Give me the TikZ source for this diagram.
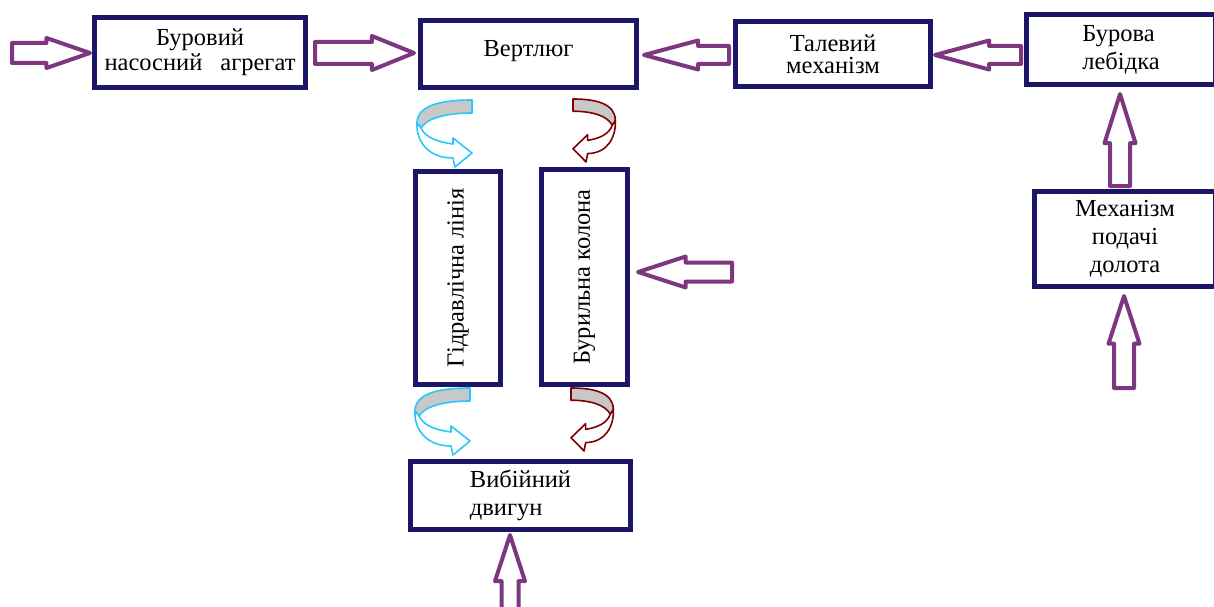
\documentclass[tikz,border=0pt]{standalone}
\usepackage{fontspec}
\setmainfont{Liberation Serif}
\usetikzlibrary{shapes.arrows}
\definecolor{navy}{RGB}{28,22,104}
\definecolor{purp}{RGB}{125,55,128}
\definecolor{cyanA}{RGB}{40,200,250}
\definecolor{dred}{RGB}{128,0,0}
\definecolor{bandgray}{RGB}{200,200,200}
\tikzset{
  box/.style={draw=navy, line width=5pt, fill=white, rectangle, inner sep=2pt,
    align=center, font=\fontsize{24.5}{27}\selectfont},
  barrow/.style={single arrow, draw=purp, fill=white, line width=4pt, line join=round,
    inner xsep=0pt, inner ysep=#1, outer sep=0pt, anchor=tip},
  pics/turn/.style={code={
    \filldraw[fill=bandgray, draw=#1, line width=1.6pt, line join=round]
      (0,0) .. controls (-30,0) and (-55,5) .. (-55,23)
      -- (-51,28)
      .. controls (-45,18) and (-25,13) .. (0,13) -- cycle;
    \filldraw[fill=white, draw=#1, line width=1.6pt, line join=round]
      (-55,23) .. controls (-56,40) and (-45,58) .. (-19,58)
      -- (-17,67) -- (0,53) -- (-19,38) -- (-19,44)
      .. controls (-35,42) and (-47,37) .. (-51,28) -- cycle;
  }}
}
\begin{document}
\begin{tikzpicture}[x=1pt, y=-1pt]
\useasboundingbox (0,0) rectangle (1214,607);
\clip (0,0) rectangle (1214,607);

% boxes
\node[box, minimum width=211pt, minimum height=70pt, font=\fontsize{24.5}{25}\selectfont] (bna) at (200,52.5)
  {Буровий\\насосний\hspace*{18pt}агрегат};
\node[box, minimum width=216pt, minimum height=67pt, text depth=12pt] (vert) at (528.5,54) {Вертлюг};
\node[box, minimum width=195pt, minimum height=65pt, font=\fontsize{24.5}{22}\selectfont] (tal) at (833,54) {Талевий\\механізм};
\node[box, minimum width=189pt, minimum height=70pt, align=left, font=\fontsize{24.5}{28}\selectfont] (leb) at (1121,49.5) {Бурова\\лебідка};
\node[box, minimum width=181pt, minimum height=95pt, font=\fontsize{24.5}{28}\selectfont] (mpd) at (1125,239) {Механізм\\подачі\\долота};
\node[box, rotate=90, minimum width=213pt, minimum height=85pt] (hl) at (458,278) {Гідравлічна лінія};
\node[box, rotate=90, minimum width=215pt, minimum height=86pt] (bk) at (584.5,277) {Бурильна колона};
\node[box, minimum width=220pt, minimum height=68pt, align=left, font=\fontsize{24.5}{28}\selectfont] (vd) at (520.5,495.5) {Вибійний\\двигун};

% block arrows
\node[barrow=8pt, single arrow head extend=5pt, single arrow tip angle=38, minimum height=78pt] (a1) at (90,53) {};
\node[barrow=9pt, single arrow head extend=6pt, single arrow tip angle=44, minimum height=99pt] (a2) at (414,53) {};
\node[barrow=7pt, single arrow head extend=5.5pt, single arrow tip angle=30, minimum height=85pt, shape border rotate=180] (a3) at (644,55) {};
\node[barrow=7pt, single arrow head extend=5.5pt, single arrow tip angle=30, minimum height=86pt, shape border rotate=180] (a4) at (935,55) {};
\node[barrow=8pt, single arrow head extend=5.5pt, single arrow tip angle=35, minimum height=92pt, rotate=90] (a5) at (1120,94) {};
\node[barrow=8pt, single arrow head extend=5.5pt, single arrow tip angle=36, minimum height=92pt, rotate=90] (a6) at (1124,296) {};
\node[barrow=6.5pt, single arrow head extend=6.5pt, single arrow tip angle=36, minimum height=77pt, rotate=90] (a7) at (510,535) {};
\node[barrow=7.5pt, single arrow head extend=6pt, single arrow tip angle=36, minimum height=94pt, shape border rotate=180] (a8) at (638,272) {};

% curved arrows
\pic at (472,100) {turn=cyanA};
\pic at (470,388) {turn=cyanA};
\pic[xscale=-0.77, yscale=0.94] at (573,99) {turn=dred};
\pic[xscale=-0.77, yscale=0.94] at (571,388) {turn=dred};
\end{tikzpicture}
\end{document}
